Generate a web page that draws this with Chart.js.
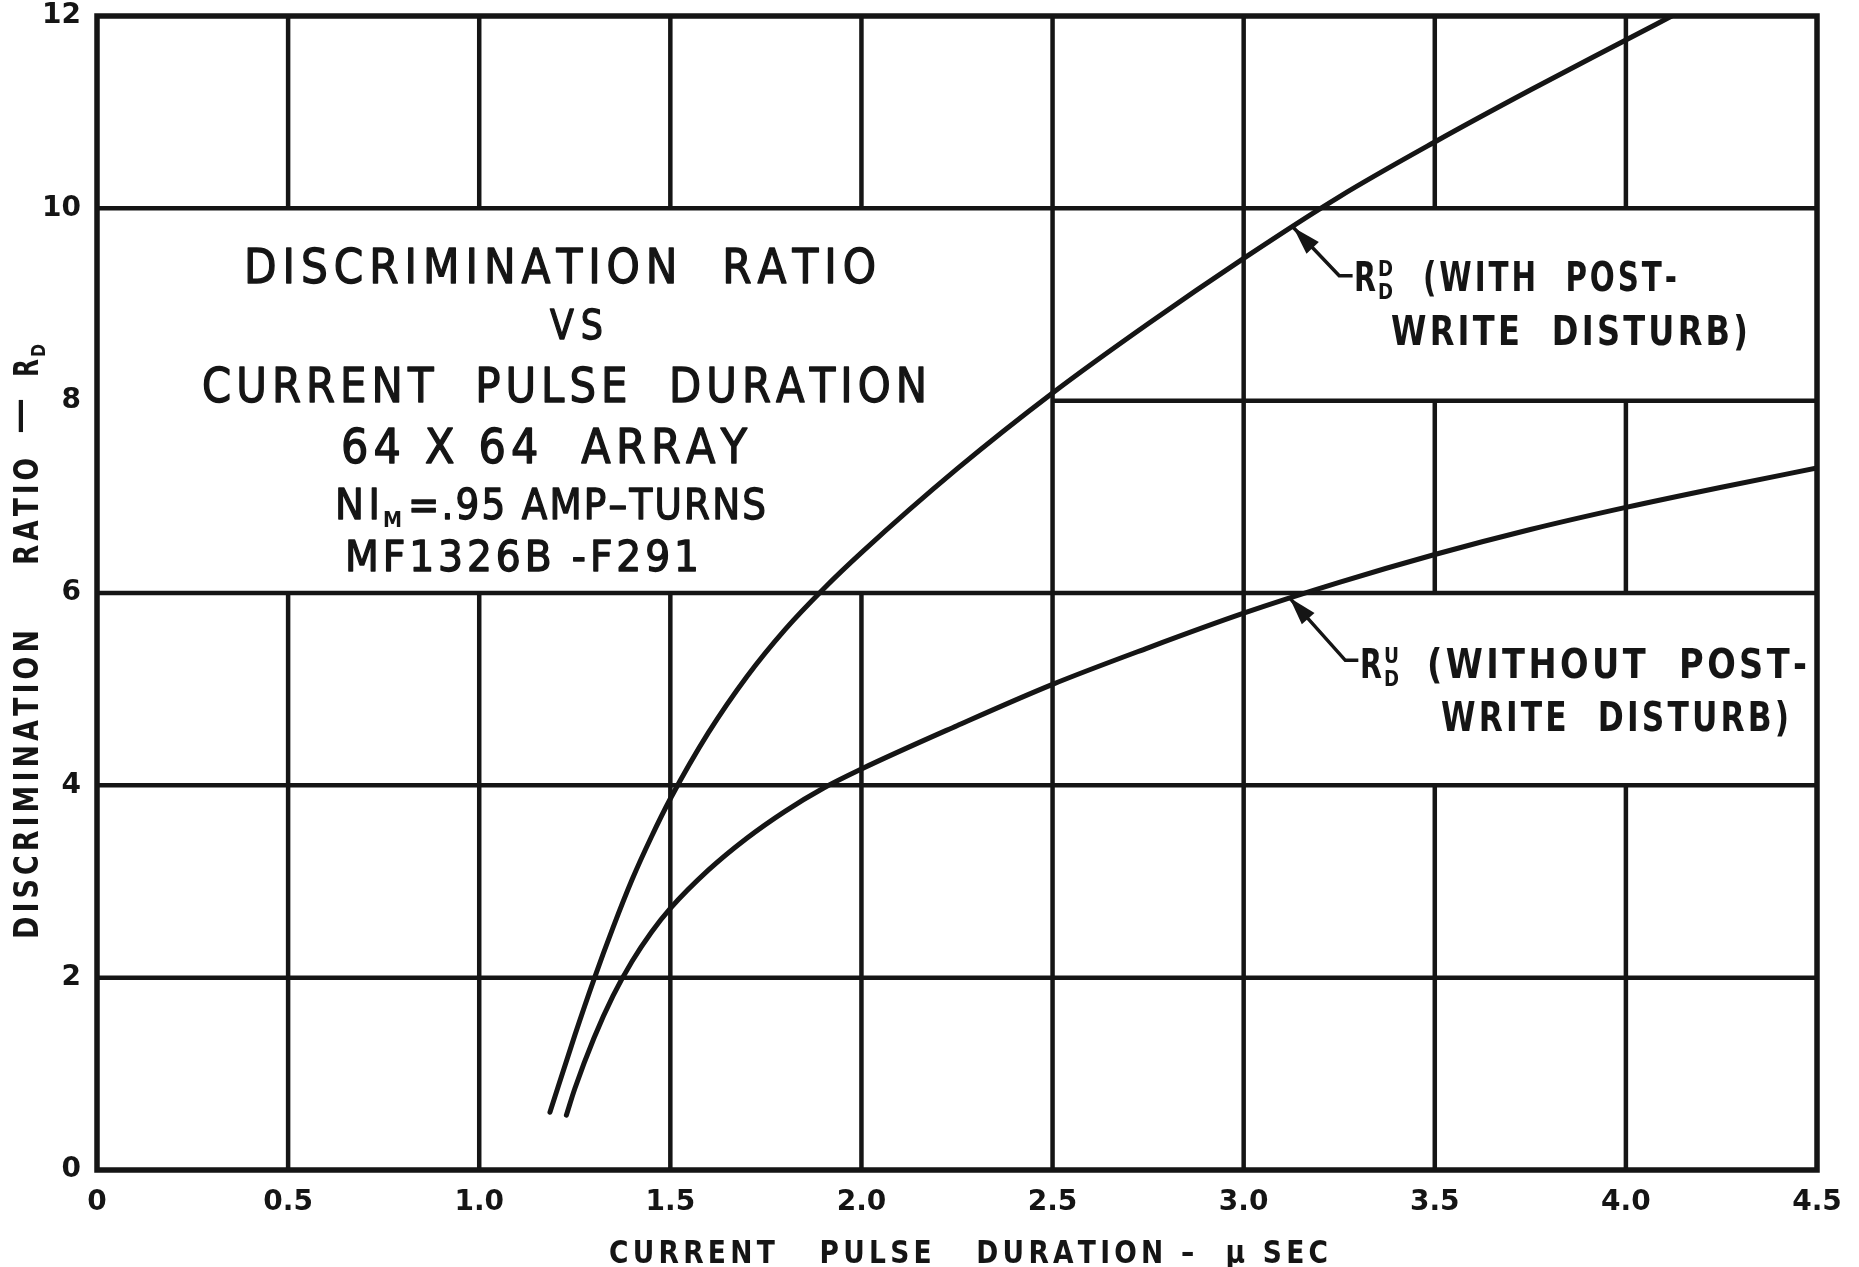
<!DOCTYPE html>
<html><head><meta charset="utf-8">
<script src="https://cdn.jsdelivr.net/npm/chart.js@4.4.1/dist/chart.umd.min.js"></script>
<style>html,body{margin:0;padding:0;background:#fff;}#wrap{width:1859px;height:1267px;position:relative;background:#fff;}</style>
</head><body><div id="wrap"><canvas id="c"></canvas></div>
<script>
// ---- data ----
const xTickValues = [0, 0.5, 1.0, 1.5, 2.0, 2.5, 3.0, 3.5, 4.0, 4.5];
const xTickLabels = ['0', '0.5', '1.0', '1.5', '2.0', '2.5', '3.0', '3.5', '4.0', '4.5'];
const yTickValues = [0, 2, 4, 6, 8, 10, 12];
const yTickLabels = ['0', '2', '4', '6', '8', '10', '12'];

// R_D^D (with post-write disturb)
const withDisturbX = [1.185, 1.25, 1.30, 1.35, 1.40, 1.45, 1.50, 1.60, 1.70, 1.80, 1.90, 2.00, 2.25, 2.50, 2.75, 3.00, 3.25, 3.50, 3.75, 4.00, 4.12];
const withDisturbY = [0.60, 1.40, 1.98, 2.52, 3.02, 3.46, 3.86, 4.55, 5.13, 5.62, 6.04, 6.42, 7.29, 8.08, 8.80, 9.48, 10.12, 10.69, 11.23, 11.75, 12.00];
// R_D^U (without post-write disturb)
const withoutDisturbX = [1.228, 1.25, 1.30, 1.35, 1.40, 1.45, 1.50, 1.60, 1.70, 1.80, 1.90, 2.00, 2.25, 2.50, 2.75, 3.00, 3.25, 3.50, 3.75, 4.00, 4.25, 4.50];
const withoutDisturbY = [0.57, 0.845, 1.37, 1.81, 2.17, 2.47, 2.72, 3.12, 3.45, 3.73, 3.97, 4.17, 4.62, 5.05, 5.43, 5.79, 6.11, 6.40, 6.66, 6.89, 7.10, 7.30];

// grid segments that exist in the drawing (value, from, to)
const vGrid = [[0.5,0,6],[0.5,10,12],[1.0,0,6],[1.0,10,12],[1.5,0,6],[1.5,10,12],[2.0,0,6],[2.0,10,12],
               [2.5,0,12],[3.0,0,12],[3.5,0,4],[3.5,6,8],[3.5,10,12],[4.0,0,4],[4.0,6,8],[4.0,10,12]];
const hGrid = [[2,0,4.5],[4,0,4.5],[6,0,4.5],[8,2.5,4.5],[10,0,4.5]];

const INK = '#151515';
const FONT = '"DejaVu Sans", "Liberation Sans", sans-serif';

function toPts(xs, ys) { return xs.map((x, i) => ({x: x, y: ys[i]})); }

// draw text stretched/condensed to fit [x0,x1] with letter spacing
function fitText(ctx, text, x0, x1, baseline, size, weight, spacingEm, extra) {
  ctx.save();
  ctx.font = weight + ' ' + size + 'px ' + FONT;
  ctx.textAlign = 'left'; ctx.textBaseline = 'alphabetic';
  const sp = spacingEm * size;
  const chars = Array.from(text);
  let natural = 0;
  const ws = chars.map(c => ctx.measureText(c).width);
  ws.forEach(w => natural += w);
  natural += sp * (chars.length - 1);
  const sx = (x1 - x0) / natural;
  ctx.translate(x0, baseline);
  ctx.scale(sx, 1);
  ctx.lineWidth = extra || 0;
  ctx.lineJoin = 'round';
  let cx = 0;
  chars.forEach((c, i) => {
    ctx.fillText(c, cx, 0);
    if (extra) ctx.strokeText(c, cx, 0);
    cx += ws[i] + sp;
  });
  ctx.restore();
}

const paperPlugin = {
  id: 'paper',
  beforeDatasetsDraw(chart) {
    const ctx = chart.ctx, xs = chart.scales.x, ys = chart.scales.y;
    ctx.save();
    ctx.strokeStyle = INK; ctx.lineCap = 'butt';
    ctx.lineWidth = 4.5;
    vGrid.forEach(([v, a, b]) => {
      const px = xs.getPixelForValue(v);
      ctx.beginPath(); ctx.moveTo(px, ys.getPixelForValue(a)); ctx.lineTo(px, ys.getPixelForValue(b)); ctx.stroke();
    });
    hGrid.forEach(([v, a, b]) => {
      const py = ys.getPixelForValue(v);
      ctx.beginPath(); ctx.moveTo(xs.getPixelForValue(a), py); ctx.lineTo(xs.getPixelForValue(b), py); ctx.stroke();
    });
    // frame
    ctx.lineWidth = 5.5; ctx.lineJoin = 'miter';
    const a = chart.chartArea;
    ctx.strokeRect(a.left, a.top, a.right - a.left, a.bottom - a.top);
    ctx.restore();
  },
  afterDatasetsDraw(chart) {
    const ctx = chart.ctx, xs = chart.scales.x, ys = chart.scales.y;
    ctx.save();
    ctx.fillStyle = INK; ctx.strokeStyle = INK;

    // title block
    fitText(ctx, 'DISCRIMINATION  RATIO', 244, 876, 283, 48, 'normal', 0.14, 1.4);
    fitText(ctx, 'VS', 550, 603, 339, 40, 'normal', 0.2, 1.4);
    fitText(ctx, 'CURRENT  PULSE  DURATION', 202, 927, 402, 48, 'normal', 0.12, 1.4);
    fitText(ctx, '64 X 64  ARRAY', 341, 747, 463, 48, 'normal', 0.12, 1.4);
    fitText(ctx, 'NI', 335, 380, 519, 42, 'normal', 0.12, 1.4);
    fitText(ctx, 'M', 383, 402, 527, 22, 'bold', 0);
    fitText(ctx, '=.95 AMP\u2013TURNS', 408, 766, 519, 42, 'normal', 0.06, 1.4);
    fitText(ctx, 'MF1326B -F291', 345, 699, 571, 42, 'normal', 0.1, 1.4);

    // annotation arrows
    const arrow = (tx, ty, kx, ky, ex, ey) => {
      const T = [xs.getPixelForValue(tx), ys.getPixelForValue(ty)];
      const K = [xs.getPixelForValue(kx), ys.getPixelForValue(ky)];
      const E = [xs.getPixelForValue(ex), ys.getPixelForValue(ey)];
      ctx.lineWidth = 3.5;
      ctx.beginPath(); ctx.moveTo(E[0], E[1]); ctx.lineTo(K[0], K[1]); ctx.lineTo(T[0], T[1]); ctx.stroke();
      const ang = Math.atan2(T[1] - K[1], T[0] - K[0]);
      const L = 28, W = 8.5;
      ctx.beginPath();
      ctx.moveTo(T[0], T[1]);
      ctx.lineTo(T[0] - L * Math.cos(ang) + W * Math.sin(ang), T[1] - L * Math.sin(ang) - W * Math.cos(ang));
      ctx.lineTo(T[0] - L * Math.cos(ang) - W * Math.sin(ang), T[1] - L * Math.sin(ang) + W * Math.cos(ang));
      ctx.closePath(); ctx.fill();
    };
    arrow(3.13, 9.80, 3.25, 9.30, 3.285, 9.30);
    arrow(3.12, 5.95, 3.266, 5.30, 3.30, 5.30);

    // annotation texts
    fitText(ctx, 'R', 1354, 1376, 291, 40, 'bold', 0);
    fitText(ctx, 'D', 1378, 1393, 276, 22, 'bold', 0);
    fitText(ctx, 'D', 1378, 1393, 299, 22, 'bold', 0);
    fitText(ctx, '(WITH  POST-', 1423, 1677, 291, 40, 'bold', 0.1);
    fitText(ctx, 'WRITE  DISTURB)', 1391, 1748, 345, 40, 'bold', 0.1);

    fitText(ctx, 'R', 1360, 1382, 678, 40, 'bold', 0);
    fitText(ctx, 'U', 1384, 1399, 663, 22, 'bold', 0);
    fitText(ctx, 'D', 1384, 1399, 686, 22, 'bold', 0);
    fitText(ctx, '(WITHOUT  POST-', 1427, 1807, 678, 40, 'bold', 0.1);
    fitText(ctx, 'WRITE  DISTURB)', 1441, 1789, 731, 40, 'bold', 0.1);

    // x axis title
    fitText(ctx, 'CURRENT   PULSE   DURATION \u2013  \u03BC SEC', 609, 1328, 1263, 32, 'bold', 0.16);

    // y axis title (rotated)
    ctx.save();
    ctx.translate(38, 0);
    ctx.rotate(-Math.PI / 2);
    fitText(ctx, 'DISCRIMINATION', -939, -630, 0, 33, 'bold', 0.15);
    fitText(ctx, 'RATIO', -565, -458, 0, 33, 'bold', 0.15);
    fitText(ctx, '\u2014', -434, -398, -8, 33, 'bold', 0);
    fitText(ctx, 'R', -377, -359, 0, 33, 'bold', 0);
    fitText(ctx, 'D', -357, -344, 7, 20, 'bold', 0);
    ctx.restore();

    ctx.restore();
  }
};

const lineStyle = {
  borderColor: INK, borderWidth: 5, pointRadius: 0, fill: false,
  cubicInterpolationMode: 'monotone', borderCapStyle: 'round', borderJoinStyle: 'round'
};

new Chart(document.getElementById('c'), {
  type: 'line',
  data: {
    datasets: [
      Object.assign({label: 'R_D^D (with post-write disturb)', data: toPts(withDisturbX, withDisturbY)}, lineStyle),
      Object.assign({label: 'R_D^U (without post-write disturb)', data: toPts(withoutDisturbX, withoutDisturbY)}, lineStyle)
    ]
  },
  options: {
    responsive: true, maintainAspectRatio: false, animation: false,
    devicePixelRatio: 1,
    layout: {padding: {left: 0, top: 16, right: 42, bottom: 0}},
    plugins: {legend: {display: false}, tooltip: {enabled: false}, title: {display: false}},
    scales: {
      x: {
        type: 'linear', min: 0, max: 4.5,
        grid: {display: false, drawTicks: false}, border: {display: false},
        afterBuildTicks: (s) => { s.ticks = xTickValues.map(v => ({value: v})); },
        ticks: {
          padding: 16, color: INK, maxRotation: 0, autoSkip: false,
          font: {family: FONT, weight: 'bold', size: 28},
          callback: (v) => { const i = xTickValues.indexOf(v); return i >= 0 ? xTickLabels[i] : ''; }
        },
        afterFit: (s) => { s.height = 97; s.paddingLeft = 0; s.paddingRight = 0; }
      },
      y: {
        type: 'linear', min: 0, max: 12,
        grid: {display: false, drawTicks: false}, border: {display: false},
        afterBuildTicks: (s) => { s.ticks = yTickValues.map(v => ({value: v})); },
        ticks: {
          padding: 16, color: INK, autoSkip: false,
          font: {family: FONT, weight: 'bold', size: 28},
          callback: (v) => { const i = yTickValues.indexOf(v); return i >= 0 ? yTickLabels[i] : ''; }
        },
        afterFit: (s) => { s.width = 97; s.paddingTop = 0; s.paddingBottom = 0; }
      }
    }
  },
  plugins: [paperPlugin]
});
</script>
</body></html>
